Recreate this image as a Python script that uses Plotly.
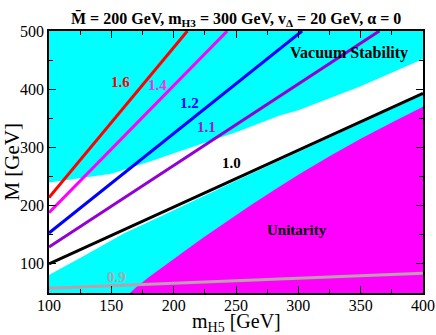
import plotly.graph_objects as go

# region boundaries (m_H5 in GeV, M in GeV)
vac_upper_x = [100, 150, 184, 200, 250, 285, 300, 350, 400]
vac_upper_y = [240, 255, 278, 290, 326, 355, 364, 405, 452]

vac_lower_x = [100, 130, 160, 200, 250, 300, 350, 400]
vac_lower_y = [81, 116, 152, 192, 243, 292, 342, 391]

unit_x = [165, 170, 180, 190, 200, 210, 225, 240, 260, 280, 300, 325, 350, 375, 400]
unit_y = [50, 60, 77, 93, 109, 124, 147, 169, 198, 226, 253, 285, 315, 343, 370]

# contour lines (straight), endpoints
ratio_labels = ["1.6", "1.4", "1.2", "1.1", "1.0", "0.9"]
ratio_x = [[100, 211], [100, 243], [100, 303], [100, 365], [100, 400], [100, 400]]
ratio_y = [[214, 500], [188, 500], [153, 500], [129, 500], [100, 393], [58, 84]]
ratio_colors = ["#ff0000", "#ff00ff", "#0000ff", "#9400d3", "#000000", "#b9a0aa"]
label_colors = ["#ff0000", "#f030f0", "#0000ff", "#9a20d0", "#000000", "#a8a8a8"]
label_x = [157, 187, 213, 226, 246, 154]
label_y = [413, 407, 377, 335, 274, 77]

CYAN = "#00ffff"
MAGENTA = "#ff00ff"
FONT = "Liberation Serif"

fig = go.Figure()

fig.add_trace(go.Scatter(x=vac_upper_x + [400, 100], y=vac_upper_y + [500, 500],
                         fill="toself", fillcolor=CYAN, line=dict(width=0),
                         mode="lines", hoverinfo="skip"))
fig.add_trace(go.Scatter(x=[100] + vac_lower_x + [400], y=[50] + vac_lower_y + [50],
                         fill="toself", fillcolor=CYAN, line=dict(width=0),
                         mode="lines", hoverinfo="skip"))
fig.add_trace(go.Scatter(x=unit_x + [400], y=unit_y + [50],
                         fill="toself", fillcolor=MAGENTA, line=dict(width=0),
                         mode="lines", hoverinfo="skip"))

for xs, ys, c in zip(ratio_x, ratio_y, ratio_colors):
    fig.add_trace(go.Scatter(x=xs, y=ys, mode="lines", line=dict(color=c, width=3),
                             hoverinfo="skip"))

for t, lx, ly, c in zip(ratio_labels, label_x, label_y, label_colors):
    fig.add_annotation(x=lx, y=ly, text="<b>%s</b>" % t, showarrow=False,
                       font=dict(family=FONT, size=15, color=c))

fig.add_annotation(x=341, y=462, text="<b>Vacuum Stability</b>", showarrow=False,
                   font=dict(family=FONT, size=16, color="black"))
fig.add_annotation(x=299, y=158, text="<b>Unitarity</b>", showarrow=False,
                   font=dict(family=FONT, size=15, color="black"))

# axis titles and header
fig.add_annotation(xref="paper", yref="paper", x=0.5, y=1.09, xanchor="center",
                   text="<b>M\u0304 = 200 GeV, m<sub>H3</sub> = 300 GeV, v<sub>\u0394</sub> = 20 GeV, \u03b1 = 0</b>",
                   showarrow=False, font=dict(family=FONT, size=16, color="black"))
fig.add_annotation(xref="paper", yref="paper", x=-0.1, y=0.5, textangle=-90,
                   xanchor="center", yanchor="middle",
                   text="M [GeV]", showarrow=False,
                   font=dict(family=FONT, size=21, color="black"))
fig.add_annotation(xref="paper", yref="paper", x=0.5, y=-0.168,
                   xanchor="center", yanchor="bottom",
                   text="m<sub>H5</sub> [GeV]", showarrow=False,
                   font=dict(family=FONT, size=20, color="black"))

axis_style = dict(showgrid=False, zeroline=False, showline=True, linecolor="black",
                  linewidth=1.5, mirror="ticks", ticks="inside", ticklen=7,
                  tickcolor="black", tickwidth=1, automargin=False,
                  tickfont=dict(family=FONT, size=16, color="black"))

fig.update_xaxes(range=[100, 400], tick0=100, dtick=50, ticklabelstandoff=-3,
                 minor=dict(dtick=25, ticks="inside", ticklen=4, tickcolor="black"),
                 **axis_style)
fig.update_yaxes(range=[50, 500], tickvals=[100, 200, 300, 400, 500],
                 minor=dict(tick0=0, dtick=50, ticks="inside", ticklen=4, tickcolor="black"),
                 **axis_style)

fig.update_layout(width=436, height=335, showlegend=False,
                  margin=dict(l=49, r=13, t=31, b=42),
                  plot_bgcolor="white", paper_bgcolor="white")

fig.write_html("out.html", config={"displayModeBar": False},
               post_script="document.body.style.margin='0';document.body.style.overflow='hidden';")
